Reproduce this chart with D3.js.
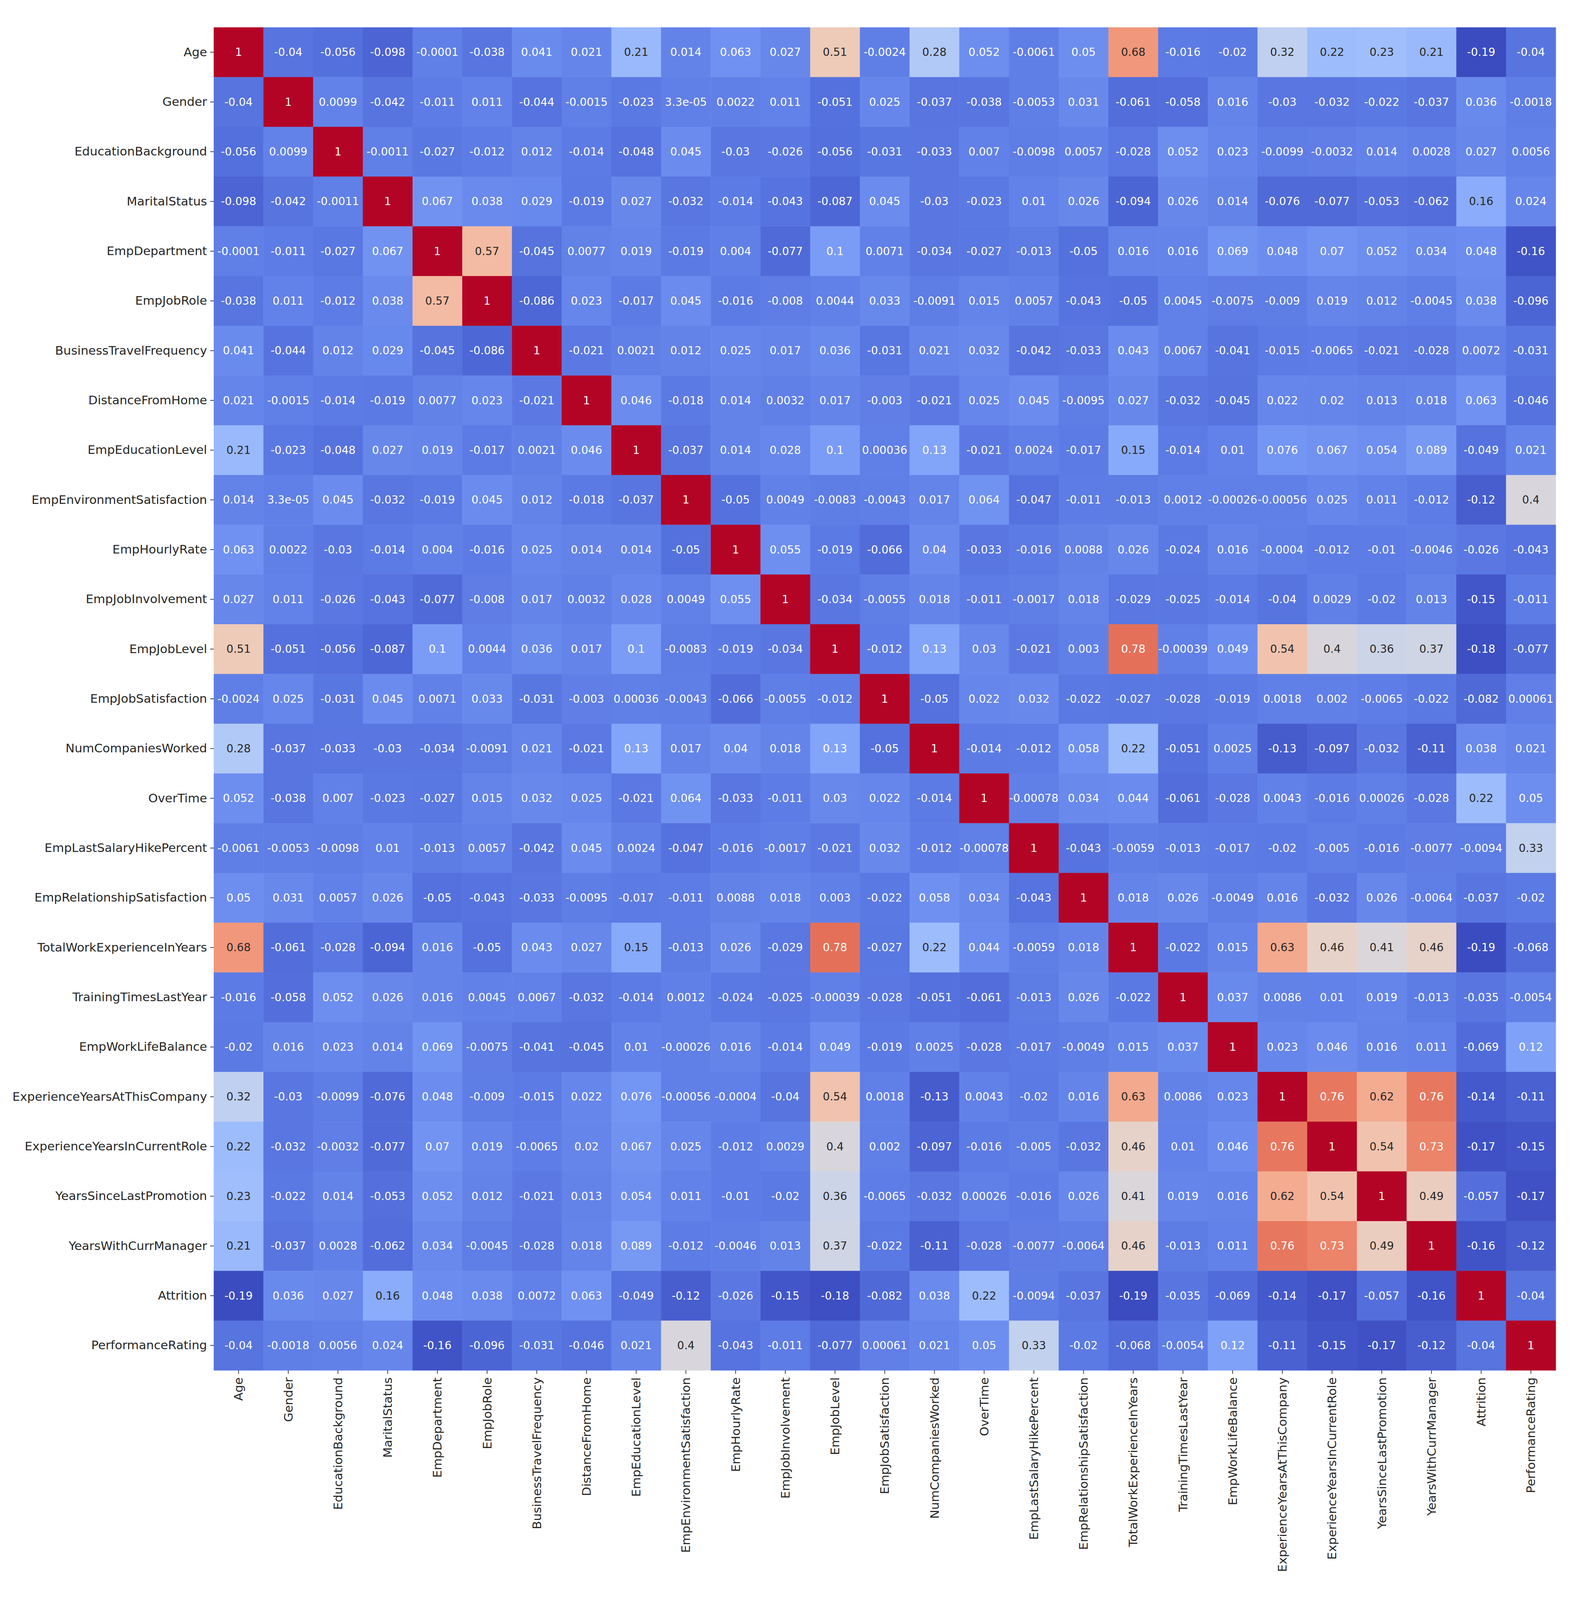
<!DOCTYPE html>
<html><head><meta charset="utf-8">
<script src="https://cdn.jsdelivr.net/npm/d3@7"></script>
<style>body{margin:0;background:#fff}</style></head>
<body><svg id="c" width="4039" height="4111"></svg>
<script>
const labels=["Age","Gender","EducationBackground","MaritalStatus","EmpDepartment","EmpJobRole","BusinessTravelFrequency","DistanceFromHome","EmpEducationLevel","EmpEnvironmentSatisfaction","EmpHourlyRate","EmpJobInvolvement","EmpJobLevel","EmpJobSatisfaction","NumCompaniesWorked","OverTime","EmpLastSalaryHikePercent","EmpRelationshipSatisfaction","TotalWorkExperienceInYears","TrainingTimesLastYear","EmpWorkLifeBalance","ExperienceYearsAtThisCompany","ExperienceYearsInCurrentRole","YearsSinceLastPromotion","YearsWithCurrManager","Attrition","PerformanceRating"];
const matrix=[
[1,-0.04,-0.056,-0.098,-0.0001,-0.038,0.041,0.021,0.21,0.014,0.063,0.027,0.51,-0.0024,0.28,0.052,-0.0061,0.05,0.68,-0.016,-0.02,0.32,0.22,0.23,0.21,-0.19,-0.04],
[-0.04,1,0.0099,-0.042,-0.011,0.011,-0.044,-0.0015,-0.023,3.3e-05,0.0022,0.011,-0.051,0.025,-0.037,-0.038,-0.0053,0.031,-0.061,-0.058,0.016,-0.03,-0.032,-0.022,-0.037,0.036,-0.0018],
[-0.056,0.0099,1,-0.0011,-0.027,-0.012,0.012,-0.014,-0.048,0.045,-0.03,-0.026,-0.056,-0.031,-0.033,0.007,-0.0098,0.0057,-0.028,0.052,0.023,-0.0099,-0.0032,0.014,0.0028,0.027,0.0056],
[-0.098,-0.042,-0.0011,1,0.067,0.038,0.029,-0.019,0.027,-0.032,-0.014,-0.043,-0.087,0.045,-0.03,-0.023,0.01,0.026,-0.094,0.026,0.014,-0.076,-0.077,-0.053,-0.062,0.16,0.024],
[-0.0001,-0.011,-0.027,0.067,1,0.57,-0.045,0.0077,0.019,-0.019,0.004,-0.077,0.1,0.0071,-0.034,-0.027,-0.013,-0.05,0.016,0.016,0.069,0.048,0.07,0.052,0.034,0.048,-0.16],
[-0.038,0.011,-0.012,0.038,0.57,1,-0.086,0.023,-0.017,0.045,-0.016,-0.008,0.0044,0.033,-0.0091,0.015,0.0057,-0.043,-0.05,0.0045,-0.0075,-0.009,0.019,0.012,-0.0045,0.038,-0.096],
[0.041,-0.044,0.012,0.029,-0.045,-0.086,1,-0.021,0.0021,0.012,0.025,0.017,0.036,-0.031,0.021,0.032,-0.042,-0.033,0.043,0.0067,-0.041,-0.015,-0.0065,-0.021,-0.028,0.0072,-0.031],
[0.021,-0.0015,-0.014,-0.019,0.0077,0.023,-0.021,1,0.046,-0.018,0.014,0.0032,0.017,-0.003,-0.021,0.025,0.045,-0.0095,0.027,-0.032,-0.045,0.022,0.02,0.013,0.018,0.063,-0.046],
[0.21,-0.023,-0.048,0.027,0.019,-0.017,0.0021,0.046,1,-0.037,0.014,0.028,0.1,0.00036,0.13,-0.021,0.0024,-0.017,0.15,-0.014,0.01,0.076,0.067,0.054,0.089,-0.049,0.021],
[0.014,3.3e-05,0.045,-0.032,-0.019,0.045,0.012,-0.018,-0.037,1,-0.05,0.0049,-0.0083,-0.0043,0.017,0.064,-0.047,-0.011,-0.013,0.0012,-0.00026,-0.00056,0.025,0.011,-0.012,-0.12,0.4],
[0.063,0.0022,-0.03,-0.014,0.004,-0.016,0.025,0.014,0.014,-0.05,1,0.055,-0.019,-0.066,0.04,-0.033,-0.016,0.0088,0.026,-0.024,0.016,-0.0004,-0.012,-0.01,-0.0046,-0.026,-0.043],
[0.027,0.011,-0.026,-0.043,-0.077,-0.008,0.017,0.0032,0.028,0.0049,0.055,1,-0.034,-0.0055,0.018,-0.011,-0.0017,0.018,-0.029,-0.025,-0.014,-0.04,0.0029,-0.02,0.013,-0.15,-0.011],
[0.51,-0.051,-0.056,-0.087,0.1,0.0044,0.036,0.017,0.1,-0.0083,-0.019,-0.034,1,-0.012,0.13,0.03,-0.021,0.003,0.78,-0.00039,0.049,0.54,0.4,0.36,0.37,-0.18,-0.077],
[-0.0024,0.025,-0.031,0.045,0.0071,0.033,-0.031,-0.003,0.00036,-0.0043,-0.066,-0.0055,-0.012,1,-0.05,0.022,0.032,-0.022,-0.027,-0.028,-0.019,0.0018,0.002,-0.0065,-0.022,-0.082,0.00061],
[0.28,-0.037,-0.033,-0.03,-0.034,-0.0091,0.021,-0.021,0.13,0.017,0.04,0.018,0.13,-0.05,1,-0.014,-0.012,0.058,0.22,-0.051,0.0025,-0.13,-0.097,-0.032,-0.11,0.038,0.021],
[0.052,-0.038,0.007,-0.023,-0.027,0.015,0.032,0.025,-0.021,0.064,-0.033,-0.011,0.03,0.022,-0.014,1,-0.00078,0.034,0.044,-0.061,-0.028,0.0043,-0.016,0.00026,-0.028,0.22,0.05],
[-0.0061,-0.0053,-0.0098,0.01,-0.013,0.0057,-0.042,0.045,0.0024,-0.047,-0.016,-0.0017,-0.021,0.032,-0.012,-0.00078,1,-0.043,-0.0059,-0.013,-0.017,-0.02,-0.005,-0.016,-0.0077,-0.0094,0.33],
[0.05,0.031,0.0057,0.026,-0.05,-0.043,-0.033,-0.0095,-0.017,-0.011,0.0088,0.018,0.003,-0.022,0.058,0.034,-0.043,1,0.018,0.026,-0.0049,0.016,-0.032,0.026,-0.0064,-0.037,-0.02],
[0.68,-0.061,-0.028,-0.094,0.016,-0.05,0.043,0.027,0.15,-0.013,0.026,-0.029,0.78,-0.027,0.22,0.044,-0.0059,0.018,1,-0.022,0.015,0.63,0.46,0.41,0.46,-0.19,-0.068],
[-0.016,-0.058,0.052,0.026,0.016,0.0045,0.0067,-0.032,-0.014,0.0012,-0.024,-0.025,-0.00039,-0.028,-0.051,-0.061,-0.013,0.026,-0.022,1,0.037,0.0086,0.01,0.019,-0.013,-0.035,-0.0054],
[-0.02,0.016,0.023,0.014,0.069,-0.0075,-0.041,-0.045,0.01,-0.00026,0.016,-0.014,0.049,-0.019,0.0025,-0.028,-0.017,-0.0049,0.015,0.037,1,0.023,0.046,0.016,0.011,-0.069,0.12],
[0.32,-0.03,-0.0099,-0.076,0.048,-0.009,-0.015,0.022,0.076,-0.00056,-0.0004,-0.04,0.54,0.0018,-0.13,0.0043,-0.02,0.016,0.63,0.0086,0.023,1,0.76,0.62,0.76,-0.14,-0.11],
[0.22,-0.032,-0.0032,-0.077,0.07,0.019,-0.0065,0.02,0.067,0.025,-0.012,0.0029,0.4,0.002,-0.097,-0.016,-0.005,-0.032,0.46,0.01,0.046,0.76,1,0.54,0.73,-0.17,-0.15],
[0.23,-0.022,0.014,-0.053,0.052,0.012,-0.021,0.013,0.054,0.011,-0.01,-0.02,0.36,-0.0065,-0.032,0.00026,-0.016,0.026,0.41,0.019,0.016,0.62,0.54,1,0.49,-0.057,-0.17],
[0.21,-0.037,0.0028,-0.062,0.034,-0.0045,-0.028,0.018,0.089,-0.012,-0.0046,0.013,0.37,-0.022,-0.11,-0.028,-0.0077,-0.0064,0.46,-0.013,0.011,0.76,0.73,0.49,1,-0.16,-0.12],
[-0.19,0.036,0.027,0.16,0.048,0.038,0.0072,0.063,-0.049,-0.12,-0.026,-0.15,-0.18,-0.082,0.038,0.22,-0.0094,-0.037,-0.19,-0.035,-0.069,-0.14,-0.17,-0.057,-0.16,1,-0.04],
[-0.04,-0.0018,0.0056,0.024,-0.16,-0.096,-0.031,-0.046,0.021,0.4,-0.043,-0.011,-0.077,0.00061,0.021,0.05,0.33,-0.02,-0.068,-0.0054,0.12,-0.11,-0.15,-0.17,-0.12,-0.04,1]
];
const coolwarmStops=["#3b4cc0","#506bda","#6b8df0","#8caffe","#b2ccfb","#dddcdc","#f2c9b4","#f6a789","#e8765c","#d24b40","#b40426"];

const L=547,T=70,W=3435,H=3438;
const svg=d3.select("#c");
const x=d3.scaleBand().domain(labels).range([L,L+W]);
const y=d3.scaleBand().domain(labels).range([T,T+H]);
const flat=matrix.flat();
const vmin=d3.min(flat),vmax=d3.max(flat);
const interp=d3.interpolateRgbBasis(coolwarmStops);
const color=v=>interp((v-vmin)/(vmax-vmin));
const cells=[];
matrix.forEach((row,i)=>row.forEach((v,j)=>cells.push({r:labels[i],c:labels[j],v})));
svg.selectAll("rect.cell").data(cells).join("rect")
 .attr("x",d=>x(d.c)).attr("y",d=>y(d.r)).attr("width",x.bandwidth()+0.5).attr("height",y.bandwidth()+0.5)
 .attr("fill",d=>color(d.v));
function fmt(v){
  const a=Math.abs(v);
  let s;
  if(a!==0 && a<1e-4){s=v.toExponential(1).replace(/e-(\d)$/,"e-0$1");}
  else s=String(+v.toPrecision(2));
  return s;
}
function lum(c){const r=d3.rgb(c);const f=u=>{u/=255;return u<=0.03928?u/12.92:Math.pow((u+0.055)/1.055,2.4)};return 0.2126*f(r.r)+0.7152*f(r.g)+0.0722*f(r.b);}
svg.selectAll("text.ann").data(cells).join("text")
 .attr("x",d=>x(d.c)+x.bandwidth()/2).attr("y",d=>y(d.r)+y.bandwidth()/2)
 .attr("text-anchor","middle").attr("dominant-baseline","central")
 .attr("font-family","DejaVu Sans").attr("font-size",28)
 .attr("fill",d=>lum(color(d.v))>0.408?"#262626":"#ffffff")
 .text(d=>fmt(d.v));
const ya=svg.append("g").attr("transform",`translate(${L},0)`).call(d3.axisLeft(y).tickSize(9).tickPadding(8));
const xa=svg.append("g").attr("transform",`translate(0,${T+H})`).call(d3.axisBottom(x).tickSize(9).tickPadding(8));
[ya,xa].forEach(a=>{a.select(".domain").remove();a.selectAll("line").attr("stroke","#444").attr("stroke-width",2);
 a.selectAll("text").attr("font-family","DejaVu Sans").attr("font-size",31).attr("fill","#262626");});
xa.selectAll("text").attr("transform","rotate(-90)").attr("text-anchor","end").attr("dy","0.35em").attr("x",-18).attr("y",0);
</script></body></html>
